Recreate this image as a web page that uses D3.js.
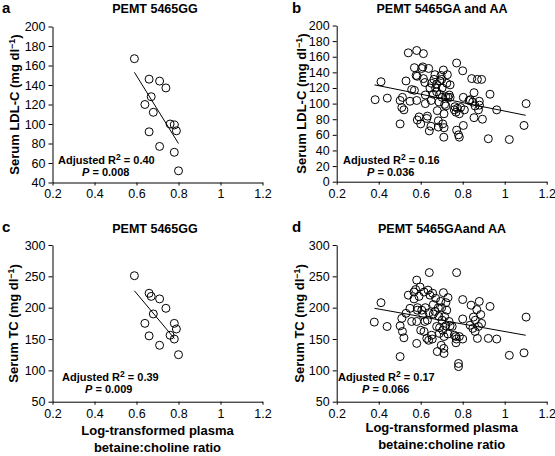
<!DOCTYPE html>
<html><head><meta charset="utf-8">
<script src="https://cdn.jsdelivr.net/npm/d3@7"></script>
<style>
html,body{margin:0;padding:0;background:#fff;}
svg text{font-family:"Liberation Sans",Arial,Helvetica,sans-serif;fill:#000;}
</style></head>
<body><svg id="chart" width="555" height="456"></svg>
<script>
// ---- data ----
const xTicks = [0.2, 0.4, 0.6, 0.8, 1, 1.2];
const yTicksLDL_A = [40, 60, 80, 100, 120, 140, 160, 180, 200];
const yTicksLDL_B = [0, 20, 40, 60, 80, 100, 120, 140, 160, 180, 200];
const yTicksTC = [50, 100, 150, 200, 250, 300];

// Panel a: PEMT 5465GG, LDL-C
const xA = [0.59,0.66,0.71,0.74,0.67,0.64,0.68,0.76,0.78,0.79,0.66,0.71,0.78,0.80];
const yA = [167,146,144,137,128,120,112,100,99,93,92,77,71,52];
const fitAx = [0.59, 0.80], fitAy = [153, 80];

// Panel c: PEMT 5465GG, TC
const xC = [0.59,0.66,0.67,0.71,0.74,0.68,0.64,0.78,0.79,0.76,0.66,0.78,0.71,0.80];
const yC = [251,223,218,214,199,190,175,175,166,156,155,150,140,125];
const fitCx = [0.59, 0.78], fitCy = [227, 151];

// Panel b: PEMT 5465GA and AA, LDL-C
const xB = [0.383,0.411,0.441,0.502,0.502,0.513,0.51,0.52,0.53,0.541,0.549,0.557,0.57,0.57,0.581,0.581,0.583,0.584,0.592,0.60,
  0.61,0.613,0.613,0.62,0.622,0.622,0.629,0.632,0.638,0.641,0.644,0.649,0.652,0.663,0.668,0.671,0.676,0.676,0.679,0.684,
  0.684,0.687,0.692,0.697,0.702,0.702,0.705,0.708,0.71,0.711,0.711,0.714,0.719,0.724,0.727,0.73,0.736,0.74,0.763,0.768,
  0.771,0.771,0.775,0.78,0.784,0.784,0.80,0.803,0.803,0.808,0.835,0.843,0.848,0.854,0.854,0.859,0.87,0.875,0.879,0.89,
  0.894,0.922,0.93,0.962,1.022,1.092,1.102,0.65,0.69,0.72,0.74,0.76,0.83,0.88,0.79,0.66,0.70,0.605,0.578];
const yB = [105,128,107,74,104,108,95,92,129,165,103,118,117,146,168,104,135,79,83,74,
  147,164,132,127,111,100,81,84,145,65,120,71,126,131,137,120,125,115,91,78,
  70,102,129,136,120,108,74,143,57,69,87,99,109,126,137,108,111,108,96,89,
  152,66,94,60,87,57,142,72,108,92,105,132,102,114,82,97,131,92,103,131,
  80,55,112,92,54,72,100,104,112,97,124,92,104,98,95,112,131,145,136];
const fitBx = [0.38, 1.10], fitBy = [124, 85];

// Panel d: PEMT 5465GAand AA, TC
const xD = [0.379,0.411,0.44,0.502,0.502,0.51,0.513,0.52,0.53,0.541,0.549,0.557,0.568,0.568,0.576,0.581,0.581,0.581,0.584,0.592,
  0.597,0.60,0.605,0.61,0.616,0.616,0.622,0.629,0.632,0.635,0.638,0.641,0.644,0.652,0.657,0.66,0.668,0.671,0.676,0.679,
  0.684,0.687,0.689,0.695,0.698,0.702,0.705,0.708,0.71,0.711,0.711,0.714,0.719,0.724,0.73,0.735,0.74,0.76,0.768,0.771,
  0.768,0.78,0.78,0.784,0.80,0.80,0.80,0.835,0.84,0.848,0.851,0.859,0.867,0.87,0.875,0.879,0.886,0.89,0.922,0.93,
  0.962,1.022,1.092,1.102,0.66,0.69,0.72,0.64,0.75,0.62,0.70,0.655,0.585,0.73,0.77,0.86];
const yD = [177,208,170,171,122,183,162,152,191,220,199,178,225,214,229,244,178,143,196,218,
  233,164,196,189,225,162,200,151,180,228,148,256,220,156,223,205,194,215,170,130,
  200,186,159,210,140,180,164,224,135,127,154,186,171,196,216,178,171,156,144,256,
  154,111,106,154,213,182,150,172,204,167,185,162,197,151,170,210,189,175,151,202,
  150,124,128,185,190,168,208,192,170,178,200,150,200,158,150,180];
const fitDx = [0.38, 1.10], fitDy = [199, 156];

// ---- drawing ----
const svg = d3.select("#chart");
const FONT = '"Liberation Sans",Arial,Helvetica,sans-serif';

function panel(cfg) {
  const g = svg.append("g");
  const x = d3.scaleLinear().domain([0.2, 1.2]).range([cfg.x0, cfg.x1]);
  const y = d3.scaleLinear().domain(cfg.yDomain).range([cfg.yBot, cfg.yTop]);

  const ax = g.append("g").attr("transform", `translate(0,${cfg.yBot})`)
    .call(d3.axisBottom(x).tickValues(xTicks).tickFormat(d3.format("~g")).tickSize(3).tickPadding(4).tickSizeOuter(0));
  const ay = g.append("g").attr("transform", `translate(${cfg.x0},0)`)
    .call(d3.axisLeft(y).tickValues(cfg.yTicks).tickSize(4).tickPadding(3).tickSizeOuter(0));
  [ax, ay].forEach(a => {
    a.selectAll("path,line").attr("stroke", "#000").attr("stroke-width", 1);
    a.selectAll("text").attr("font-size", 12.5).attr("font-family", FONT).attr("fill", "#000");
  });

  // regression line
  g.append("line")
    .attr("x1", x(cfg.fx[0])).attr("y1", y(cfg.fy[0]))
    .attr("x2", x(cfg.fx[1])).attr("y2", y(cfg.fy[1]))
    .attr("stroke", "#000").attr("stroke-width", 1);

  // points
  const pts = cfg.xs.map((v, i) => [v, cfg.ys[i]]);
  g.append("g").selectAll("circle").data(pts).join("circle")
    .attr("cx", d => x(d[0])).attr("cy", d => y(d[1])).attr("r", 4)
    .attr("fill", "#fff").attr("fill-opacity", 0).attr("stroke", "#000").attr("stroke-width", 1);

  // title & letter
  g.append("text").attr("x", cfg.titleX).attr("y", cfg.titleY).attr("text-anchor", "middle")
    .attr("font-size", 12.5).attr("font-weight", "bold").text(cfg.title);
  g.append("text").attr("x", cfg.letterX).attr("y", cfg.letterY)
    .attr("font-size", 15).attr("font-weight", "bold").text(cfg.letter);

  // y label
  const yl = g.append("text")
    .attr("transform", `translate(${cfg.ylx},${(cfg.yTop + cfg.yBot) / 2}) rotate(-90)`)
    .attr("text-anchor", "middle").attr("dy", "0.35em")
    .attr("font-size", 13).attr("font-weight", "bold");
  yl.append("tspan").text(cfg.ylabel + " (mg dl");
  yl.append("tspan").attr("font-size", 9).attr("dy", "-0.45em").text("\u22121");
  yl.append("tspan").attr("dy", "0.45em").text(")");

  // annotation
  const t1 = g.append("text").attr("x", cfg.annX).attr("y", cfg.annY)
    .attr("font-size", 11).attr("font-weight", "bold");
  t1.append("tspan").text("Adjusted R");
  t1.append("tspan").attr("font-size", 8.5).attr("dy", -4.5).text("2");
  t1.append("tspan").attr("dy", 4.5).text(" = " + cfg.r2);
  const t2 = g.append("text").attr("x", cfg.pX).attr("y", cfg.annY + 12)
    .attr("font-size", 11).attr("font-weight", "bold");
  t2.append("tspan").attr("font-style", "italic").text("P");
  t2.append("tspan").text(" = " + cfg.p);

  if (cfg.xl1Y) {
    const cx = (cfg.x0 + cfg.x1) / 2;
    g.append("text").attr("x", cx).attr("y", cfg.xl1Y).attr("text-anchor", "middle")
      .attr("font-size", 13).attr("font-weight", "bold").text("Log-transformed plasma");
    g.append("text").attr("x", cx).attr("y", cfg.xl1Y + 17).attr("text-anchor", "middle")
      .attr("font-size", 13).attr("font-weight", "bold").text("betaine:choline ratio");
  }
}

panel({letter:"a", title:"PEMT 5465GG", titleX:155, titleY:13, letterX:2, letterY:13,
  x0:52.5, x1:262.5, yTop:26.5, yBot:182.5, yDomain:[40,200], yTicks:yTicksLDL_A,
  xs:xA, ys:yA, fx:fitAx, fy:fitAy, ylabel:"Serum LDL-C", ylx:14,
  annX:58, annY:164, pX:82, r2:"0.40", p:"0.008"});
panel({letter:"b", title:"PEMT 5465GA and AA", titleX:442, titleY:13, letterX:292, letterY:13,
  x0:336.7, x1:546.7, yTop:25.5, yBot:181.7, yDomain:[0,200], yTicks:yTicksLDL_B,
  xs:xB, ys:yB, fx:fitBx, fy:fitBy, ylabel:"Serum LDL-C", ylx:301,
  annX:343, annY:164, pX:367, r2:"0.16", p:"0.036"});
panel({letter:"c", title:"PEMT 5465GG", titleX:155, titleY:233, letterX:2, letterY:232,
  x0:52.5, x1:262.5, yTop:245, yBot:401.7, yDomain:[50,300], yTicks:yTicksTC,
  xs:xC, ys:yC, fx:fitCx, fy:fitCy, ylabel:"Serum TC", ylx:13,
  annX:62, annY:381, pX:85, r2:"0.39", p:"0.009", xl1Y:435});
panel({letter:"d", title:"PEMT 5465GAand AA", titleX:442, titleY:233, letterX:292, letterY:232,
  x0:336.7, x1:546.7, yTop:245, yBot:401.7, yDomain:[50,300], yTicks:yTicksTC,
  xs:xD, ys:yD, fx:fitDx, fy:fitDy, ylabel:"Serum TC", ylx:299,
  annX:338, annY:381, pX:362, r2:"0.17", p:"0.066", xl1Y:432});
</script>
</body></html>
